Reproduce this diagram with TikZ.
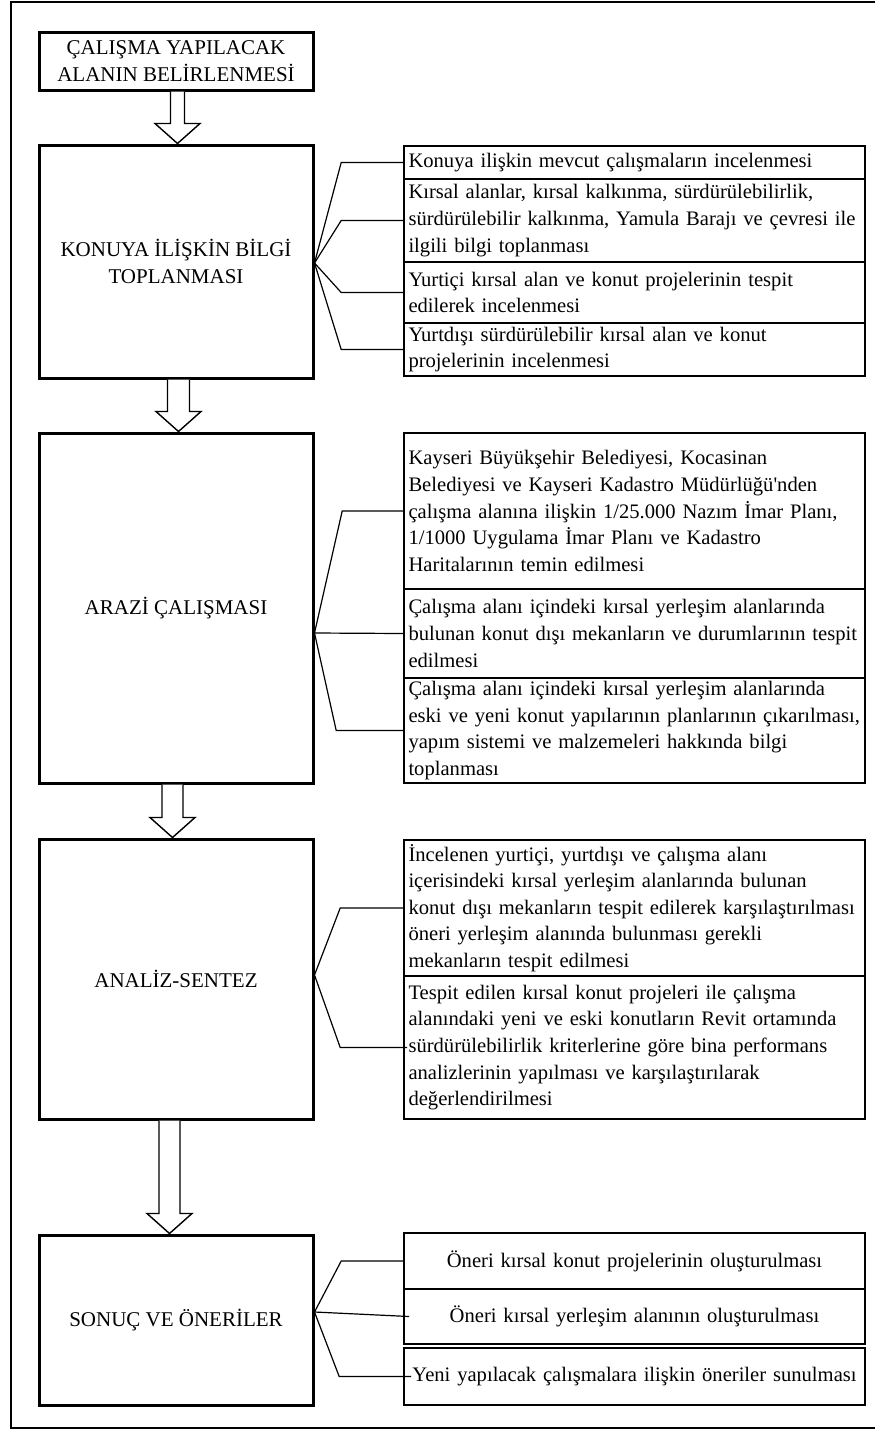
\documentclass[tikz,border=0pt]{standalone}
\usepackage{fontspec}
\setmainfont{Liberation Serif}[Ligatures=TeXOff]
\usepackage{tikz}
\usetikzlibrary{positioning,calc}

% hollow block arrow from the bottom of one box to the top of the next
% #1 from, #2 to, #3 x offset, #4 half width of the shaft
\newcommand{\blockarrow}[4]{%
  \draw[blockarr] let \p1=($(#1.south)+(#3,0)$), \p2=($(#2.north)+(#3,0)$) in
    (\x1-#4,\y1) -- (\x1-#4,\y2+10pt) -- (\x1-11.25pt,\y2+10pt) -- (\x1,\y2)
    -- (\x1+11.25pt,\y2+10pt) -- (\x1+#4,\y2+10pt) -- (\x1+#4,\y1);
}

\begin{document}
\begin{tikzpicture}[
    x=0.5pt, y=-0.5pt,
    font=\fontsize{10.5pt}{13.3pt}\selectfont,
    mainbox/.style={rectangle, draw, line width=1.5pt, minimum width=137pt,
                    inner sep=0pt, align=center},
    itembox/.style={rectangle, draw, line width=0.8pt, text width=226pt,
                    inner xsep=2.25pt, inner ysep=0pt, align=left,
                    font=\fontsize{10.3pt}{13.3pt}\selectfont,
                    execute at begin node={\hyphenpenalty=10000\exhyphenpenalty=10000}},
    itemmid/.style={itembox, align=center},
    brace/.style={line width=0.6pt},
    blockarr/.style={line width=0.7pt, fill=white},
    frame/.style={line width=1pt}
]
\useasboundingbox (0,0) rectangle (875,1430);

% outer frame
\draw[frame] (875,2) -- (11,2) -- (11,1428) -- (875,1428);

% main steps (left column)
\node[mainbox, minimum height=29pt] (alan) at (176,61) {ÇALIŞMA YAPILACAK\\ALANIN BELİRLENMESİ};
\node[mainbox, minimum height=116.5pt] (konu) at (176,261.5) {KONUYA İLİŞKİN BİLGİ\\TOPLANMASI};
\node[mainbox, minimum height=175pt] (arazi) at (176,608) {ARAZİ ÇALIŞMASI};
\node[mainbox, minimum height=140pt] (analiz) at (176,979) {ANALİZ-SENTEZ};
\node[mainbox, minimum height=85pt] (sonuc) at (176,1320) {SONUÇ VE ÖNERİLER};

% arrows between the steps
\blockarrow{alan}{konu}{0.75pt}{3.5pt}
\blockarrow{konu}{arazi}{1.25pt}{5.5pt}
\blockarrow{arazi}{analiz}{-1.75pt}{5.25pt}
\blockarrow{analiz}{sonuc}{-3.25pt}{5.25pt}

% details of KONUYA ILISKIN BILGI TOPLANMASI
\node[itembox, minimum height=16.5pt] (k1) at (634.5,162.5) {Konuya ilişkin mevcut çalışmaların incelenmesi};
\node[itembox, minimum height=41.5pt] (k2) at (634.5,220.5) {Kırsal alanlar, kırsal kalkınma, sürdürülebilirlik,\\sürdürülebilir kalkınma, Yamula Barajı ve çevresi ile\\ilgili bilgi toplanması};
\node[itembox, minimum height=30.5pt] (k3) at (634.5,292.5) {Yurtiçi kırsal alan ve konut projelerinin tespit\\edilerek incelenmesi};
\node[itembox, minimum height=26.5pt] (k4) at (634.5,349.5) {Yurtdışı sürdürülebilir kırsal alan ve konut\\projelerinin incelenmesi};

\coordinate (ka) at (konu.east |- 0,263);
\draw[brace] (ka) -- ([xshift=-31pt]k1.west) -- (k1.west);
\draw[brace] (ka) -- ([xshift=-31pt]k2.west) -- (k2.west);
\draw[brace] (ka) -- ([xshift=-31pt]k3.west) -- (k3.west);
\draw[brace] (ka) -- ([xshift=-31pt]k4.west) -- (k4.west);

% details of ARAZI CALISMASI
\node[itembox, minimum height=78pt] (a1) at (634.5,511) {Kayseri Büyükşehir Belediyesi, Kocasinan\\Belediyesi ve Kayseri Kadastro Müdürlüğü'nden\\çalışma alanına ilişkin 1/25.000 Nazım İmar Planı,\\1/1000 Uygulama İmar Planı ve Kadastro\\Haritalarının temin edilmesi};
\node[itembox, minimum height=44.5pt] (a2) at (634.5,633.5) {Çalışma alanı içindeki kırsal yerleşim alanlarında\\bulunan konut dışı mekanların ve durumlarının tespit\\edilmesi};
\node[itembox, minimum height=52.5pt] (a3) at (634.5,730.5) {Çalışma alanı içindeki kırsal yerleşim alanlarında\\eski ve yeni konut yapılarının planlarının çıkarılması,\\yapım sistemi ve malzemeleri hakkında bilgi\\toplanması};

\coordinate (aa) at (arazi.east |- 0,633);
\draw[brace] (aa) -- ([xshift=-30.5pt]a1.west) -- (a1.west);
\draw[brace] (aa) -- (a2.west);
\draw[brace] (aa) -- ([xshift=-33.5pt]a3.west) -- (a3.west);

% details of ANALIZ-SENTEZ
\node[itembox, minimum height=68pt] (n1) at (634.5,908) {İncelenen yurtiçi, yurtdışı ve çalışma alanı\\içerisindeki kırsal yerleşim alanlarında bulunan\\konut dışı mekanların tespit edilerek karşılaştırılması\\öneri yerleşim alanında bulunması gerekli\\mekanların tespit edilmesi};
\node[itembox, minimum height=71.5pt] (n2) at (634.5,1047.5) {Tespit edilen kırsal konut projeleri ile çalışma\\alanındaki yeni ve eski konutların Revit ortamında\\sürdürülebilirlik kriterlerine göre bina performans\\analizlerinin yapılması ve karşılaştırılarak\\değerlendirilmesi};

\coordinate (na) at (analiz.east |- 0,975);
\draw[brace] (na) -- ([xshift=-31.5pt]n1.west) -- (n1.west);
\draw[brace] (na) -- ([xshift=-31.5pt]n2.west) -- ([xshift=2pt]n2.west);

% details of SONUC VE ONERILER
\node[itemmid, minimum height=28pt] (s1) at (634.5,1261) {Öneri kırsal konut projelerinin oluşturulması};
\node[itemmid, minimum height=27.5pt] (s2) at (634.5,1316.5) {Öneri kırsal yerleşim alanının oluşturulması};
\node[itemmid, minimum height=28.5pt] (s3) at (634.5,1376.5) {Yeni yapılacak çalışmalara ilişkin öneriler sunulması};

\coordinate (sa) at (sonuc.east |- 0,1312);
\draw[brace] (sa) -- ([xshift=-31pt]s1.west) -- (s1.west);
\draw[brace] (sa) -- ([xshift=3pt]s2.west);
\draw[brace] (sa) -- ([xshift=-32pt]s3.west) -- ([xshift=4pt]s3.west);

\end{tikzpicture}
\end{document}
